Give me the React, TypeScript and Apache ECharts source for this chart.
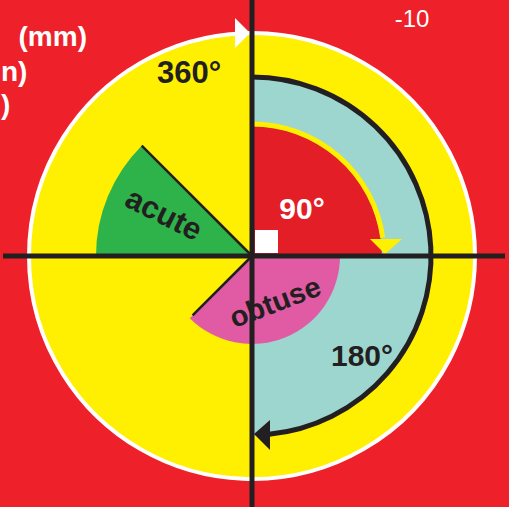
import React, { useEffect, useRef } from "react";
import * as echarts from "echarts";

// Angle data (degrees): which angle, how large it is, where its sweep starts
// (screen degrees, clockwise from 3 o'clock)
const angleNames = ["acute", "right", "obtuse", "straight", "full"];
const angleDegrees = [45, 90, 135, 180, 360];
const angleStarts = [180, -90, 0, -90, -90];
const angleLabels = ["acute", "90°", "obtuse", "180°", "360°"];
const cornerNote = "-10";
const sideLabels = ["(mm)", "n)", ")"];

const FONT = "'Liberation Sans', Arial, Helvetica, sans-serif";
const DARK = "#231F20";

function rad(d: number) {
  return (d * Math.PI) / 180;
}

export default function App() {
  const ref = useRef<HTMLDivElement>(null);
  useEffect(() => {
    if (!ref.current) return;
    const chart = echarts.init(ref.current, null, { renderer: "svg" });
    const W = 509;
    const H = 507;
    const CX = 252;
    const CY = 256;
    const R_OUT = 223;
    const R_STRAIGHT = 180;
    const R_RIGHT = 130;
    const R_ACUTE = 156;
    const R_OBTUSE = 88;

    const idx = (n: string) => angleNames.indexOf(n);
    const pt = (r: number, deg: number) => [CX + r * Math.cos(rad(deg)), CY + r * Math.sin(rad(deg))];

    const iA = idx("acute");
    const iR = idx("right");
    const iO = idx("obtuse");
    const iS = idx("straight");
    const iF = idx("full");

    const acuteEnd = angleStarts[iA] + angleDegrees[iA];
    const obtuseEnd = angleStarts[iO] + angleDegrees[iO];
    const straightEnd = angleStarts[iS] + angleDegrees[iS];
    const rightEnd = angleStarts[iR] + angleDegrees[iR];

    const R_YARC = 132;
    const yArcEnd = rightEnd - 8;
    const R_BARC = 179;
    const bArcEnd = straightEnd - 5.5;

    const elements: any[] = [
      // yellow disc with white rim (full turn)
      {
        type: "circle",
        shape: { cx: CX, cy: CY, r: R_OUT },
        style: { fill: "#FFEF00", stroke: "#FFFFFF", lineWidth: 4 },
      },
      // white arrowhead on rim at top (full turn)
      {
        type: "polygon",
        shape: { points: [[CX - 2, CY - R_OUT], [CX - 17, CY - R_OUT - 15], [CX - 17, CY - R_OUT + 15]] },
        style: { fill: "#FFFFFF" },
      },
      // straight angle (teal half disc)
      {
        type: "sector",
        shape: { cx: CX, cy: CY, r0: 0, r: R_STRAIGHT, startAngle: rad(angleStarts[iS]), endAngle: rad(straightEnd), clockwise: true },
        style: { fill: "#9DD6CF" },
      },
      // right angle (red quarter)
      {
        type: "sector",
        shape: { cx: CX, cy: CY, r0: 0, r: R_RIGHT, startAngle: rad(angleStarts[iR]), endAngle: rad(rightEnd), clockwise: true },
        style: { fill: "#E31E26" },
      },
      // yellow arrow arc for right angle
      {
        type: "arc",
        shape: { cx: CX, cy: CY, r: R_YARC, startAngle: rad(angleStarts[iR]), endAngle: rad(yArcEnd), clockwise: true },
        style: { stroke: "#FFEF00", lineWidth: 5, fill: null },
      },
      {
        type: "polygon",
        shape: { points: [[CX + R_YARC - 14, CY - 17], [CX + R_YARC + 18, CY - 17], [CX + R_YARC + 1, CY - 2]] },
        style: { fill: "#FFEF00" },
      },
      // acute (green)
      {
        type: "sector",
        shape: { cx: CX, cy: CY, r0: 0, r: R_ACUTE, startAngle: rad(angleStarts[iA]), endAngle: rad(acuteEnd), clockwise: true },
        style: { fill: "#2DB34A" },
      },
      {
        type: "line",
        shape: { x1: CX, y1: CY, x2: pt(R_ACUTE, acuteEnd)[0], y2: pt(R_ACUTE, acuteEnd)[1] },
        style: { stroke: DARK, lineWidth: 2.5 },
      },
      // obtuse (pink)
      {
        type: "sector",
        shape: { cx: CX, cy: CY, r0: 0, r: R_OBTUSE, startAngle: rad(angleStarts[iO]), endAngle: rad(obtuseEnd), clockwise: true },
        style: { fill: "#E05BA3" },
      },
      {
        type: "line",
        shape: { x1: CX, y1: CY, x2: pt(R_OBTUSE - 4, obtuseEnd)[0], y2: pt(R_OBTUSE - 4, obtuseEnd)[1] },
        style: { stroke: DARK, lineWidth: 2.5 },
      },
      // black arrow arc for straight angle
      {
        type: "arc",
        shape: { cx: CX, cy: CY, r: R_BARC, startAngle: rad(angleStarts[iS]), endAngle: rad(bArcEnd), clockwise: true },
        style: { stroke: DARK, lineWidth: 5, fill: null },
      },
      {
        type: "polygon",
        shape: { points: [[CX + 2, CY + R_BARC - 1], [CX + 18, CY + R_BARC - 15], [CX + 18, CY + R_BARC + 15]] },
        style: { fill: DARK },
      },
      // axes
      {
        type: "line",
        shape: { x1: CX, y1: 0, x2: CX, y2: H },
        style: { stroke: DARK, lineWidth: 5 },
      },
      {
        type: "line",
        shape: { x1: 3, y1: CY, x2: W - 4, y2: CY },
        style: { stroke: DARK, lineWidth: 5 },
      },
      // right-angle marker
      {
        type: "rect",
        shape: { x: CX + 3, y: CY - 26, width: 23, height: 23 },
        style: { fill: "#FFFFFF" },
      },
      // labels
      {
        type: "text",
        x: 164,
        y: 214,
        rotation: rad(-26.5),
        style: { text: angleLabels[iA], fill: DARK, font: `bold 31px ${FONT}`, align: "center", verticalAlign: "middle" },
      },
      {
        type: "text",
        x: 302,
        y: 208,
        style: { text: angleLabels[iR], fill: "#FFFFFF", font: `bold 30px ${FONT}`, align: "center", verticalAlign: "middle" },
      },
      {
        type: "text",
        x: 275,
        y: 302,
        rotation: rad(21),
        style: { text: angleLabels[iO], fill: DARK, font: `bold 29px ${FONT}`, align: "center", verticalAlign: "middle" },
      },
      {
        type: "text",
        x: 362,
        y: 355,
        style: { text: angleLabels[iS], fill: DARK, font: `bold 30px ${FONT}`, align: "center", verticalAlign: "middle" },
      },
      {
        type: "text",
        x: 189,
        y: 72,
        style: { text: angleLabels[iF], fill: DARK, font: `bold 31px ${FONT}`, align: "center", verticalAlign: "middle" },
      },
      {
        type: "text",
        x: 412,
        y: 18,
        style: { text: cornerNote, fill: "#FFFFFF", font: `24px ${FONT}`, align: "center", verticalAlign: "middle" },
      },
      ...sideLabels.map((t, i) => ({
        type: "text",
        x: [87, 1, 1][i],
        y: [36, 71, 104][i],
        style: { text: t, fill: "#FFFFFF", font: `bold 28px ${FONT}`, align: i === 0 ? "right" : "left", verticalAlign: "middle" },
      })),
    ];

    chart.setOption({
      animation: false,
      backgroundColor: "#EE2029",
      graphic: { elements },
    });
    return () => chart.dispose();
  }, []);
  return <div ref={ref} style={{ position: "fixed", left: 0, top: 0, width: 509, height: 507 }} />;
}
